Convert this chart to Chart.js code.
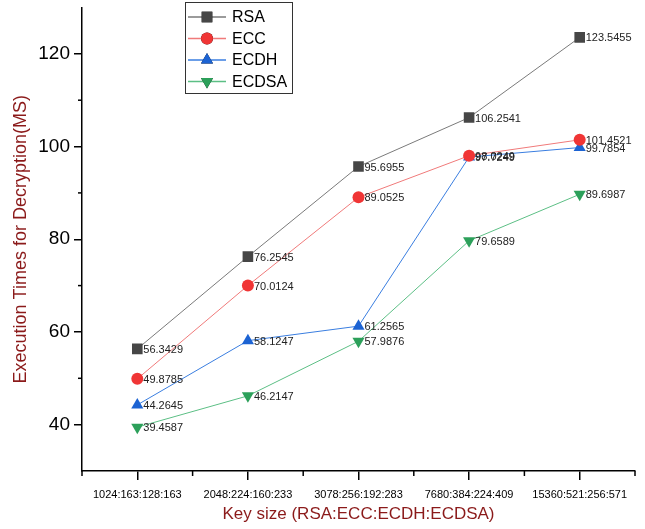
<!DOCTYPE html>
<html>
<head>
<meta charset="utf-8">
<script src="https://cdn.jsdelivr.net/npm/chart.js@4.4.1/dist/chart.umd.min.js"></script>
<style>
  body { margin: 0; background: #fff; }
</style>
</head>
<body>
<canvas id="myChart" width="645" height="529"></canvas>
<script>
const keySizes = ["1024:163:128:163", "2048:224:160:233", "3078:256:192:283", "7680:384:224:409", "15360:521:256:571"];
const rsa = [56.3429, 76.2545, 95.6955, 106.2541, 123.5455];
const ecc = [49.8785, 70.0124, 89.0525, 98.0249, 101.4521];
const ecdh = [44.2645, 58.1247, 61.2565, 97.7249, 99.7854];
const ecdsa = [39.4587, 46.2147, 57.9876, 79.6589, 89.6987];

const titleColor = "#8b1a1a";

// value labels next to each point
const pointLabels = {
  id: "pointLabels",
  afterDatasetsDraw(chart) {
    const ctx = chart.ctx;
    ctx.save();
    ctx.font = "11px 'Liberation Sans', Arial";
    ctx.fillStyle = "#222";
    ctx.textBaseline = "middle";
    ctx.textAlign = "left";
    chart.data.datasets.forEach((ds, i) => {
      chart.getDatasetMeta(i).data.forEach((pt, j) => {
        ctx.fillText(ds.data[j].toFixed(4), pt.x + 6, pt.y + 1);
      });
    });
    ctx.restore();
  },
};

// minor ticks + boxed legend
const extras = {
  id: "extras",
  afterDraw(chart) {
    const ctx = chart.ctx;
    const x = chart.scales.x;
    const y = chart.scales.y;
    ctx.save();
    ctx.strokeStyle = "#000";
    ctx.lineWidth = 1.5;
    [50, 70, 90, 110].forEach((v) => {
      const py = y.getPixelForValue(v);
      ctx.beginPath();
      ctx.moveTo(x.left - 4, py);
      ctx.lineTo(x.left, py);
      ctx.stroke();
    });
    for (let i = 0; i <= keySizes.length; i++) {
      const px = x.getPixelForValue(i - 0.5);
      ctx.beginPath();
      ctx.moveTo(px, y.bottom);
      ctx.lineTo(px, y.bottom + 5);
      ctx.stroke();
    }

    // legend
    const lx = 185, ly = 2, lw = 107, lh = 91;
    ctx.lineWidth = 1;
    ctx.strokeStyle = "#333";
    ctx.strokeRect(lx + 0.5, ly + 0.5, lw, lh);
    ctx.font = "16px 'Liberation Sans', Arial";
    ctx.textBaseline = "middle";
    ctx.fillStyle = "#000";
    chart.data.datasets.forEach((ds, i) => {
      const cy = 17 + i * 21.5;
      ctx.strokeStyle = ds.borderColor;
      ctx.lineWidth = 1.5;
      ctx.beginPath();
      ctx.moveTo(188, cy);
      ctx.lineTo(226, cy);
      ctx.stroke();
      Chart.helpers.drawPoint(ctx, {
        pointStyle: ds.pointStyle,
        radius: ds.pointRadius,
        rotation: ds.pointRotation || 0,
        borderWidth: 0,
      }, 207, cy);
      ctx.fillStyle = ds.pointBackgroundColor;
      ctx.fill();
      ctx.fillStyle = "#000";
      ctx.fillText(ds.label, 232, cy + 1);
    });
    ctx.restore();
  },
};

function series(label, data, line, marker, style, radius, rotation) {
  return {
    label: label,
    data: data,
    borderColor: line,
    borderWidth: 1,
    pointStyle: style,
    pointRadius: radius,
    pointHoverRadius: radius,
    pointRotation: rotation,
    pointBackgroundColor: marker,
    pointBorderColor: marker,
    pointBorderWidth: 0,
    tension: 0,
  };
}

new Chart(document.getElementById("myChart"), {
  type: "line",
  data: {
    labels: keySizes,
    datasets: [
      series("RSA", rsa, "#7a7a7a", "#464646", "rect", 7.5, 0),
      series("ECC", ecc, "#f07a7a", "#f03535", "circle", 6, 0),
      series("ECDH", ecdh, "#3a7ee0", "#1c63d3", "triangle", 7, 0),
      series("ECDSA", ecdsa, "#5cbf85", "#2ca05a", "triangle", 7, 180),
    ],
  },
  options: {
    responsive: false,
    animation: false,
    layout: { padding: { top: 7, right: 10, left: 0, bottom: 0 } },
    plugins: {
      legend: { display: false },
      tooltip: { enabled: false },
    },
    scales: {
      x: {
        offset: true,
        grid: { display: true, drawOnChartArea: false, offset: false, tickLength: 9, color: "#000", lineWidth: 1.5 },
        border: { color: "#000", width: 1.5 },
        ticks: { color: "#000", font: { size: 11, family: "'Liberation Sans', Arial" }, padding: 8, maxRotation: 0, autoSkip: false },
        title: { display: true, text: "Key size (RSA:ECC:ECDH:ECDSA)", color: titleColor, font: { size: 17, family: "'Liberation Sans', Arial" }, padding: { top: 0, bottom: 4 } },
        afterFit(scale) {
          scale.height = 58;
          scale.paddingLeft = 0;
          scale.paddingRight = 0;
        },
      },
      y: {
        min: 30,
        max: 130,
        grid: { display: true, drawOnChartArea: false, tickLength: 8, color: "#000", lineWidth: 1.5 },
        border: { color: "#000", width: 1.5 },
        ticks: {
          color: "#000",
          font: { size: 19, family: "'Liberation Sans', Arial" },
          padding: 4,
        },
        afterBuildTicks(scale) {
          scale.ticks = [40, 60, 80, 100, 120].map((v) => ({ value: v }));
        },
        title: { display: true, text: "Execution Times for Decryption(MS)", color: titleColor, font: { size: 18, family: "'Liberation Sans', Arial" }, padding: { top: 10, bottom: 0 } },
        afterFit(scale) {
          scale.width = 82;
          scale.paddingTop = 0;
          scale.paddingBottom = 0;
        },
      },
    },
  },
  plugins: [pointLabels, extras],
});
</script>
</body>
</html>
